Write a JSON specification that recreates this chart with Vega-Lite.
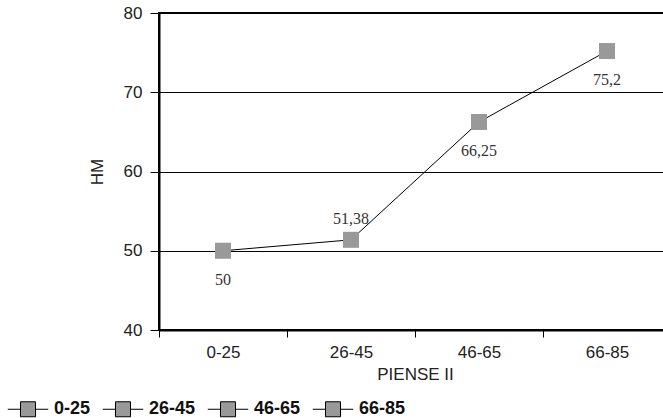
{
  "$schema": "https://vega.github.io/schema/vega-lite/v6.json",
  "autosize": "none",
  "width": 512,
  "height": 317,
  "padding": {"left": 159, "top": 13, "right": 0, "bottom": 88},
  "background": "white",
  "config": {
    "locale": {"number": {"decimal": ",", "thousands": ".", "grouping": [3], "currency": ["", "€"]}},
    "view": {"stroke": "black", "strokeWidth": 2},
    "font": "Liberation Sans"
  },
  "data": {
    "values": [
      {"PIENSE": "0-25", "HM": 50},
      {"PIENSE": "26-45", "HM": 51.38},
      {"PIENSE": "46-65", "HM": 66.25},
      {"PIENSE": "66-85", "HM": 75.2}
    ]
  },
  "encoding": {
    "x": {
      "field": "PIENSE", "type": "nominal", "sort": null,
      "title": "PIENSE II",
      "scale": {"paddingInner": 0, "paddingOuter": 0},
      "axis": {
        "labelAngle": 0, "domainColor": "black", "domainWidth": 2,
        "tickColor": "black", "tickWidth": 1, "tickSize": 7, "tickBand": "extent",
        "labelFont": "Liberation Sans", "labelFontSize": 17, "labelColor": "#222",
        "labelPadding": 7, "titleFont": "Liberation Sans", "titleFontSize": 17,
        "titleFontWeight": "normal", "titleColor": "#222", "titlePadding": 6
      }
    },
    "y": {
      "field": "HM", "type": "quantitative", "title": "HM",
      "scale": {"domain": [40, 80], "nice": false, "zero": false},
      "axis": {
        "values": [40, 50, 60, 70, 80], "grid": true, "gridColor": "black", "gridWidth": 1, "gridOpacity": 1,
        "domainColor": "black", "domainWidth": 2, "tickColor": "black", "tickSize": 9, "tickWidth": 1,
        "labelFont": "Liberation Sans", "labelFontSize": 17, "labelColor": "#222", "labelPadding": 8,
        "titleFont": "Liberation Sans", "titleFontSize": 17, "titleFontWeight": "normal", "titleColor": "#222",
        "titlePadding": 17
      }
    }
  },
  "layer": [
    {"mark": {"type": "line", "color": "black", "strokeWidth": 1}},
    {
      "mark": {"type": "point", "shape": "square", "filled": true, "size": 256, "opacity": 1},
      "encoding": {
        "color": {
          "field": "PIENSE", "type": "nominal", "sort": null,
          "scale": {"range": ["#999999", "#999999", "#999999", "#999999"]},
          "legend": {
            "title": null, "orient": "none", "direction": "horizontal",
            "legendX": -140, "legendY": 387,
            "symbolType": "M-2.7,0H-1M1,0H2.7M-1,-1H1V1H-1Z",
            "symbolSize": 225, "symbolStrokeWidth": 1, "symbolStrokeColor": "black", "symbolFillColor": "#999999",
            "labelFont": "Liberation Sans", "labelFontSize": 18, "labelFontWeight": "bold", "labelColor": "#111",
            "labelOffset": 17, "columnPadding": 9,
            "encode": {"symbols": {"enter": {"stroke": {"value": "black"}, "strokeWidth": {"value": 1}}, "update": {"stroke": {"value": "black"}, "strokeWidth": {"value": 1}, "fill": {"value": "#999999"}, "opacity": {"value": 1}}}}
          }
        }
      }
    },
    {
      "transform": [{"filter": "datum.PIENSE != '26-45'"}],
      "mark": {"type": "text", "font": "Liberation Serif", "fontSize": 16, "color": "#333", "dy": 29},
      "encoding": {"text": {"field": "HM", "type": "quantitative", "format": ".4~g"}}
    },
    {
      "transform": [{"filter": "datum.PIENSE == '26-45'"}],
      "mark": {"type": "text", "font": "Liberation Serif", "fontSize": 16, "color": "#333", "dy": -21},
      "encoding": {"text": {"field": "HM", "type": "quantitative", "format": ".4~g"}}
    }
  ]
}
